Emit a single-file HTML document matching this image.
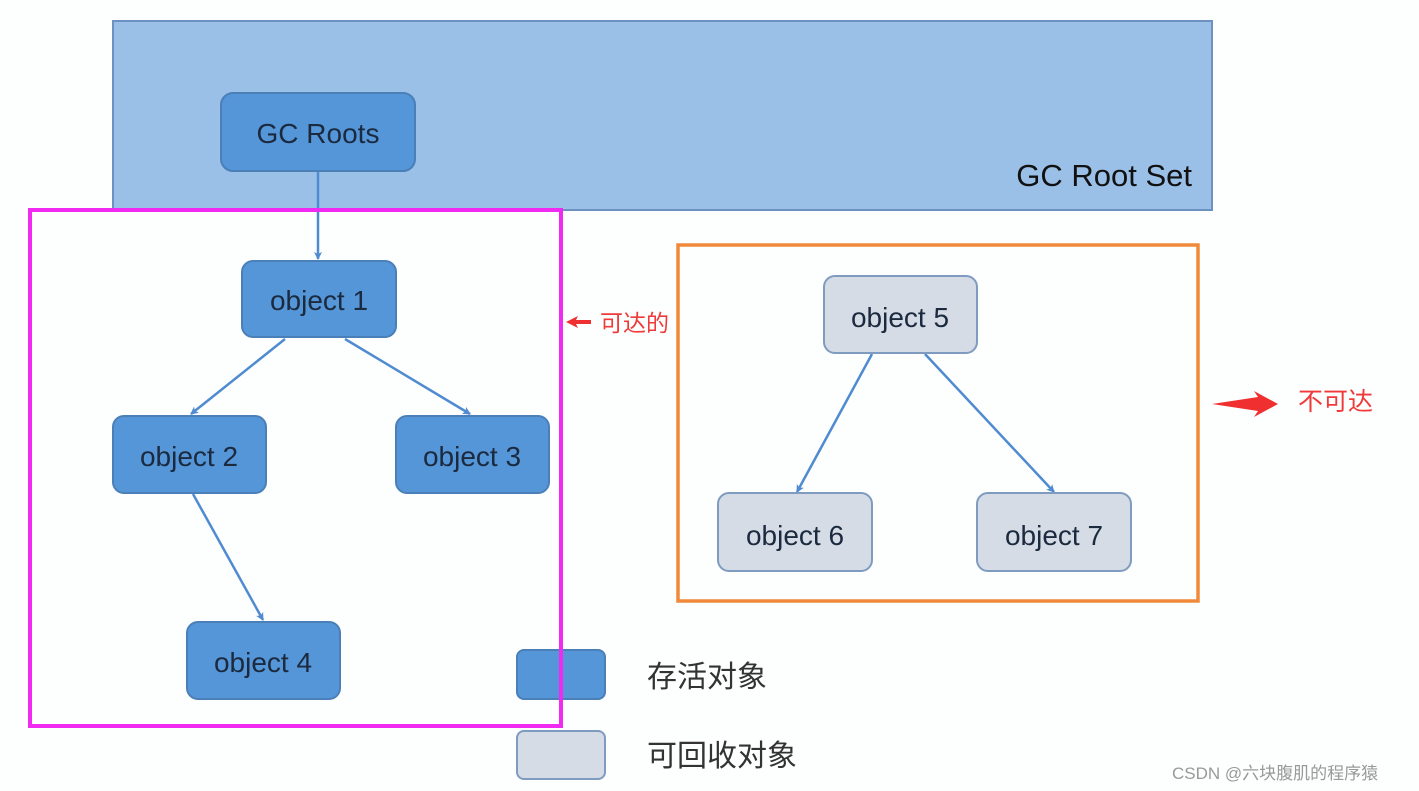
<!DOCTYPE html>
<html><head><meta charset="utf-8"><style>
html,body{margin:0;padding:0;background:#fdfefe;}
svg{display:block;}
text{font-family:"Liberation Sans","Noto Sans CJK SC",sans-serif;}
</style></head><body>
<svg width="1419" height="791" viewBox="0 0 1419 791" xmlns="http://www.w3.org/2000/svg">
<defs>
<marker id="a" markerWidth="8" markerHeight="8" refX="7" refY="4" orient="auto" markerUnits="userSpaceOnUse"><path d="M0,0 L8,4 L0,8 L2,4 Z" fill="#4f8bd0"/></marker>
</defs>
<rect x="0" y="0" width="1419" height="791" fill="#fdfefe"/>
<rect x="113" y="21" width="1099" height="189" fill="#9bc0e8" stroke="#6d92c2" stroke-width="2"/>
<text x="1192" y="186" font-size="31" fill="#111" text-anchor="end">GC Root Set</text>

<g stroke-width="2.5" stroke="#4f8bd0" fill="none">
<line x1="318" y1="171" x2="318" y2="259" marker-end="url(#a)"/>
<line x1="285" y1="339" x2="191" y2="414" marker-end="url(#a)"/>
<line x1="345" y1="339" x2="470" y2="414" marker-end="url(#a)"/>
<line x1="193" y1="494" x2="263" y2="620" marker-end="url(#a)"/>
<line x1="872" y1="354" x2="797" y2="492" marker-end="url(#a)"/>
<line x1="925" y1="354" x2="1054" y2="492" marker-end="url(#a)"/>
</g>

<g fill="#5596d8" stroke="#4a7fb8" stroke-width="2">
<rect x="221" y="93" width="194" height="78" rx="12"/>
<rect x="242" y="261" width="154" height="76" rx="11"/>
<rect x="113" y="416" width="153" height="77" rx="11"/>
<rect x="396" y="416" width="153" height="77" rx="11"/>
<rect x="187" y="622" width="153" height="77" rx="11"/>
<rect x="517" y="650" width="88" height="49" rx="7"/>
</g>
<g fill="#d5dce6" stroke="#7f9bbf" stroke-width="2">
<rect x="824" y="276" width="153" height="77" rx="11"/>
<rect x="718" y="493" width="154" height="78" rx="11"/>
<rect x="977" y="493" width="154" height="78" rx="11"/>
<rect x="517" y="731" width="88" height="48" rx="7"/>
</g>

<g font-size="28" fill="#1b2a3e" text-anchor="middle">
<text x="318" y="143">GC Roots</text>
<text x="319" y="310">object 1</text>
<text x="189" y="466">object 2</text>
<text x="472" y="466">object 3</text>
<text x="263" y="672">object 4</text>
<text x="900" y="327">object 5</text>
<text x="795" y="545">object 6</text>
<text x="1054" y="545">object 7</text>
</g>

<rect x="30" y="210" width="531" height="516" fill="none" stroke="#f02af0" stroke-width="4"/>
<rect x="678" y="245" width="520" height="356" fill="none" stroke="#f08a3a" stroke-width="3.5"/>

<path d="M566,322 L578,316 L576,320 L591,320 L591,324 L576,324 L578,328 Z" fill="#f03030"/>
<text x="600" y="331" font-size="23" fill="#f03a3a">可达的</text>
<path d="M1212,404 L1258,397 L1254,391 L1278,404 L1254,417 L1258,411 Z" fill="#f03030"/>
<text x="1298" y="410" font-size="25" fill="#f03a3a">不可达</text>

<text x="647" y="687" font-size="30" fill="#333" font-family="'Noto Serif CJK SC',serif">存活对象</text>
<text x="647" y="766" font-size="30" fill="#333" font-family="'Noto Serif CJK SC',serif">可回收对象</text>
<text x="1172" y="779" font-size="17" fill="#999">CSDN @六块腹肌的程序猿</text>
</svg>
</body></html>
